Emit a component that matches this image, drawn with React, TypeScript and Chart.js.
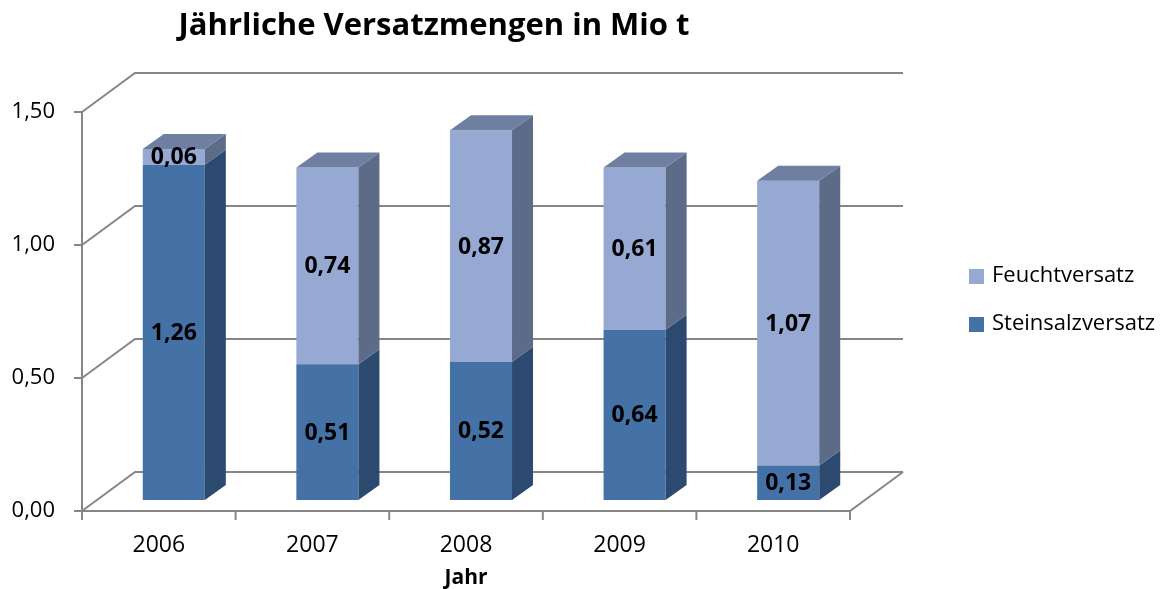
import React, { useEffect, useRef } from "react";
import { Chart, registerables } from "chart.js";

Chart.register(...registerables);

// ---- data ----
const years = ["2006", "2007", "2008", "2009", "2010"];
const steinsalzversatz = [1.26, 0.51, 0.52, 0.64, 0.13];
const feuchtversatz = [0.06, 0.74, 0.87, 0.61, 1.07];
const yTickValues = [0, 0.5, 1, 1.5];
const seriesLabels = ["Steinsalzversatz", "Feuchtversatz"];
const chartTitle = "Jährliche Versatzmengen in Mio t";
const xTitle = "Jahr";

// ---- styles ----
const FONT = "'Open Sans', 'DejaVu Sans', sans-serif";
const GRID = "#868686";
const WALL_DX = 53;
const WALL_DY = 39;
const BAR_SHIFT_X = 15;
const BAR_SHIFT_Y = 11;
const BAR_DX = 21;
const BAR_DY = 15;
const faceColors = [
  { front: "#4472A7", side: "#2C4A70", top: "#3B5F8E" },
  { front: "#95A9D2", side: "#5C6B87", top: "#6F7FA1" },
];

const fmt = (v: number) => Number(v).toFixed(2).replace(".", ",");

const threeD = {
  id: "threeD",
  beforeDatasetsDraw(chart: any) {
    const { ctx, chartArea: a, scales } = chart;
    const ys = scales.y;
    ctx.save();
    ctx.strokeStyle = GRID;
    ctx.lineWidth = 2;
    for (const v of yTickValues) {
      const py = ys.getPixelForValue(v);
      ctx.beginPath();
      ctx.moveTo(a.left, py);
      ctx.lineTo(a.left + WALL_DX, py - WALL_DY);
      ctx.lineTo(a.right + WALL_DX, py - WALL_DY);
      ctx.stroke();
      ctx.beginPath();
      ctx.moveTo(a.left - 8, py);
      ctx.lineTo(a.left, py);
      ctx.stroke();
    }
    const y0 = ys.getPixelForValue(0);
    const yTop = ys.getPixelForValue(yTickValues[yTickValues.length - 1]);
    ctx.beginPath();
    ctx.moveTo(a.left, y0);
    ctx.lineTo(a.right, y0);
    ctx.lineTo(a.right + WALL_DX, y0 - WALL_DY);
    ctx.stroke();
    ctx.beginPath();
    ctx.moveTo(a.left, y0);
    ctx.lineTo(a.left, yTop);
    ctx.stroke();
    const n = years.length;
    for (let i = 0; i <= n; i++) {
      const px = a.left + (i * (a.right - a.left)) / n;
      ctx.beginPath();
      ctx.moveTo(px, y0);
      ctx.lineTo(px, y0 + 9);
      ctx.stroke();
    }
    ctx.restore();
    ctx.save();
    ctx.translate(BAR_SHIFT_X, -BAR_SHIFT_Y);
  },
  afterDatasetsDraw(chart: any) {
    const { ctx } = chart;
    const nds = chart.data.datasets.length;
    for (let di = 0; di < nds; di++) {
      const meta = chart.getDatasetMeta(di);
      const col = faceColors[di];
      meta.data.forEach((el: any) => {
        const { x, y, base, width } = el.getProps(["x", "y", "base", "width"], true);
        const l = x - width / 2;
        const r = x + width / 2;
        const t = Math.min(y, base);
        const b = Math.max(y, base);
        ctx.fillStyle = col.side;
        ctx.beginPath();
        ctx.moveTo(r, t);
        ctx.lineTo(r + BAR_DX, t - BAR_DY);
        ctx.lineTo(r + BAR_DX, b - BAR_DY);
        ctx.lineTo(r, b);
        ctx.closePath();
        ctx.fill();
        if (di === nds - 1) {
          ctx.fillStyle = col.top;
          ctx.beginPath();
          ctx.moveTo(l, t);
          ctx.lineTo(l + BAR_DX, t - BAR_DY);
          ctx.lineTo(r + BAR_DX, t - BAR_DY);
          ctx.lineTo(r, t);
          ctx.closePath();
          ctx.fill();
        }
      });
    }
    ctx.fillStyle = "#000";
    ctx.font = `bold 23px ${FONT}`;
    ctx.textAlign = "center";
    ctx.textBaseline = "middle";
    for (let di = 0; di < nds; di++) {
      const meta = chart.getDatasetMeta(di);
      const vals = chart.data.datasets[di].data;
      meta.data.forEach((el: any, i: number) => {
        const { x, y, base } = el.getProps(["x", "y", "base"], true);
        ctx.fillText(fmt(vals[i]), x, (y + base) / 2 + 1);
      });
    }
    ctx.restore();
  },
  afterDraw(chart: any) {
    const { ctx } = chart;
    const ds = chart.data.datasets;
    ctx.save();
    // title
    ctx.fillStyle = "#000";
    ctx.font = `bold 31px ${FONT}`;
    ctx.textAlign = "center";
    ctx.textBaseline = "middle";
    ctx.fillText(chartTitle, 434, 26);
    // legend
    ctx.font = `22px ${FONT}`;
    ctx.textAlign = "left";
    const order = [1, 0];
    order.forEach((di, k) => {
      const cy = 276 + k * 48;
      ctx.fillStyle = faceColors[di].front;
      ctx.fillRect(969, cy - 7, 15, 15);
      ctx.fillStyle = "#000";
      ctx.fillText(ds[di].label, 992, cy);
    });
    ctx.restore();
  },
};

export default function App() {
  const ref = useRef<HTMLCanvasElement | null>(null);
  useEffect(() => {
    if (!ref.current) return;
    const chart = new Chart(ref.current, {
      type: "bar",
      data: {
        labels: years,
        datasets: [
          {
            label: seriesLabels[0],
            data: steinsalzversatz,
            backgroundColor: faceColors[0].front,
            borderWidth: 0,
            barPercentage: 0.404,
            categoryPercentage: 1,
          },
          {
            label: seriesLabels[1],
            data: feuchtversatz,
            backgroundColor: faceColors[1].front,
            borderWidth: 0,
            barPercentage: 0.404,
            categoryPercentage: 1,
          },
        ],
      },
      options: {
        animation: false,
        responsive: true,
        maintainAspectRatio: false,
        events: [],
        layout: { padding: { left: 0, right: 315, top: 112, bottom: 0 } },
        plugins: {
          legend: { display: false },
          tooltip: { enabled: false },
          title: { display: false },
        },
        scales: {
          x: {
            stacked: true,
            grid: { display: false, drawTicks: false },
            border: { display: false },
            ticks: { color: "#000", font: { family: FONT, size: 23 }, padding: 21 },
            title: {
              display: true,
              text: xTitle,
              color: "#000",
              font: { family: FONT, size: 21, weight: "bold", lineHeight: 1 },
              padding: 0,
            },
            afterFit: (s: any) => {
              s.height = 78;
            },
          },
          y: {
            stacked: true,
            min: 0,
            max: 1.5,
            grid: { display: false, drawTicks: false },
            border: { display: false },
            ticks: {
              stepSize: 0.5,
              color: "#000",
              font: { family: FONT, size: 22 },
              padding: 27,
              callback: (v: any) => fmt(v),
            },
            afterFit: (s: any) => {
              s.width = 82;
            },
          },
        },
      },
      plugins: [threeD],
    });
    return () => chart.destroy();
  }, []);
  return (
    <div style={{ position: "fixed", left: 0, top: 0, width: 1165, height: 589, background: "#fff" }}>
      <canvas ref={ref} />
    </div>
  );
}
